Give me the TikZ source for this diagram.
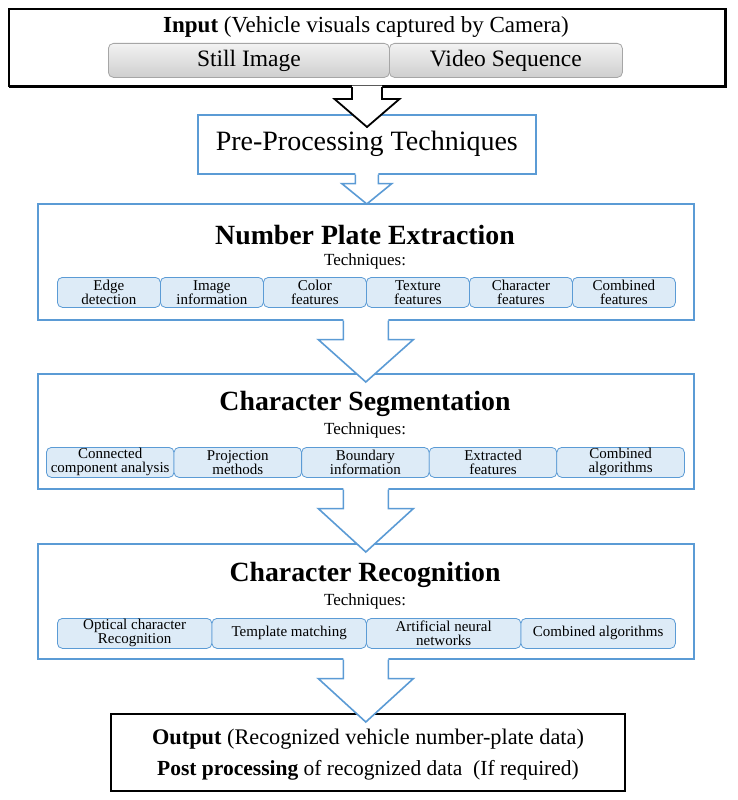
\documentclass[tikz,border=0pt]{standalone}
\usepackage{fontspec}
\setmainfont{Liberation Serif}
\usetikzlibrary{calc}
\definecolor{bline}{HTML}{5B9BD5}
\definecolor{bfill}{HTML}{DDEBF7}
\tikzset{
 box/.style={draw=bline, line width=1.6pt, fill=white},
 blackbox/.style={draw=black, line width=2pt, fill=white},
 sub/.style={draw=bline, line width=0.8pt, fill=bfill, rounded corners=5pt, align=center, inner sep=0pt, font=\fontsize{15}{14}\selectfont},
 btn/.style={draw=gray!70, line width=0.8pt, top color=gray!10, bottom color=gray!38, rounded corners=5pt, inner sep=0pt, font=\fontsize{23.5}{25}\selectfont},
 ttl/.style={font=\fontsize{27.8}{30}\selectfont\bfseries, inner sep=0pt},
 tech/.style={font=\fontsize{17}{19}\selectfont, inner sep=0pt},
 blkline/.style={line width=1.6pt, line join=miter}
}
\newcommand\blkarrow[7]{%
 \fill[white] ($(#2.south)+(-#4,-1.5)$) -- ($(#2.south)+(-#4,#6)$) -- ($(#2.south)+(-#5,#6)$) -- ($(#2.south |- #3.north)+(0,#7)$) -- ($(#2.south)+(#5,#6)$) -- ($(#2.south)+(#4,#6)$) -- ($(#2.south)+(#4,-1.5)$) -- cycle;
 \draw[blkline,#1] ($(#2.south)+(-#4,0)$) -- ($(#2.south)+(-#4,#6)$) -- ($(#2.south)+(-#5,#6)$) -- ($(#2.south |- #3.north)+(0,#7)$) -- ($(#2.south)+(#5,#6)$) -- ($(#2.south)+(#4,#6)$) -- ($(#2.south)+(#4,0)$);
}
\begin{document}
\begin{tikzpicture}[x=1pt,y=-1pt]
\useasboundingbox[fill=white] (0,0) rectangle (737,800);
% Input
\draw[line width=2pt, fill=black] (9.5,9.5) rectangle (725.5,86.5);
\node[blackbox, minimum width=716pt, minimum height=77pt, anchor=north west] (in) at (8,8) {};
\node[font=\fontsize{23}{25}\selectfont, inner sep=0pt] (intitle) at (366,27) {\textbf{Input} (Vehicle visuals captured by Camera)};
\node[btn, minimum width=281pt, minimum height=34pt, anchor=north west] (still) at (108,43) {Still Image};
\node[btn, minimum width=233pt, minimum height=34pt, anchor=north west] (video) at (389,43) {Video Sequence};
% Pre-processing
\node[box, minimum width=338pt, minimum height=59pt, anchor=north west, font=\fontsize{28}{30}\selectfont] (pp) at (197,114) {Pre-Processing Techniques};
% Number plate extraction
\node[box, minimum width=656pt, minimum height=116pt, anchor=north west] (npe) at (37,203) {};
\node[ttl] (npet) at (365,235) {Number Plate Extraction};
\node[tech] (npetech) at (365,261) {Techniques:};
\foreach \t [count=\i] in {{Edge\\detection},{Image\\information},{Color\\features},{Texture\\features},{Character\\features},{Combined\\features}}
 \node[sub, minimum width=103pt, minimum height=30pt, anchor=north west] (npe\i) at ({57+(\i-1)*103},277) {\t};
% Character segmentation
\node[box, minimum width=656pt, minimum height=115pt, anchor=north west] (cs) at (37,373) {};
\node[ttl] (cst) at (365,404) {Character Segmentation};
\node[tech] (cstech) at (365,430) {Techniques:};
\foreach \t [count=\i] in {{Connected\\component analysis},{Projection\\methods},{Boundary\\information},{Extracted\\features},{Combined\\algorithms}}
 \node[sub, minimum width=127.6pt, minimum height=30pt, anchor=north west] (cs\i) at ({46+(\i-1)*127.6},447) {\t};
% Character recognition
\node[box, minimum width=656pt, minimum height=115pt, anchor=north west] (cr) at (37,543) {};
\node[ttl] (crt) at (365,575) {Character Recognition};
\node[tech] (crtech) at (365,601) {Techniques:};
\foreach \t [count=\i] in {{Optical character\\Recognition},{Template matching},{Artificial neural\\networks},{Combined algorithms}}
 \node[sub, minimum width=154.5pt, minimum height=30pt, anchor=north west] (cr\i) at ({57+(\i-1)*154.5},618) {\t};
% Output
\node[blackbox, minimum width=514pt, minimum height=77pt, anchor=north west] (out) at (110,713) {};
\node[font=\fontsize{22.3}{24}\selectfont, inner sep=0pt] (out1) at (368,739) {\textbf{Output} (Recognized vehicle number-plate data)};
\node[font=\fontsize{21.5}{23}\selectfont, inner sep=0pt] (out2) at (368,770) {\textbf{Post processing} of recognized data \ (If required)};
% Arrows
\blkarrow{draw=black, line width=1.8pt}{in}{pp}{15}{32.5}{12}{13}
\blkarrow{draw=bline}{pp}{npe}{11.5}{25}{9}{1}
\blkarrow{draw=bline}{npe}{cs}{22.5}{47.5}{19}{9}
\blkarrow{draw=bline}{cs}{cr}{22.5}{47.5}{19}{9}
\blkarrow{draw=bline}{cr}{out}{22.5}{47.5}{19}{9}
\end{tikzpicture}
\end{document}
